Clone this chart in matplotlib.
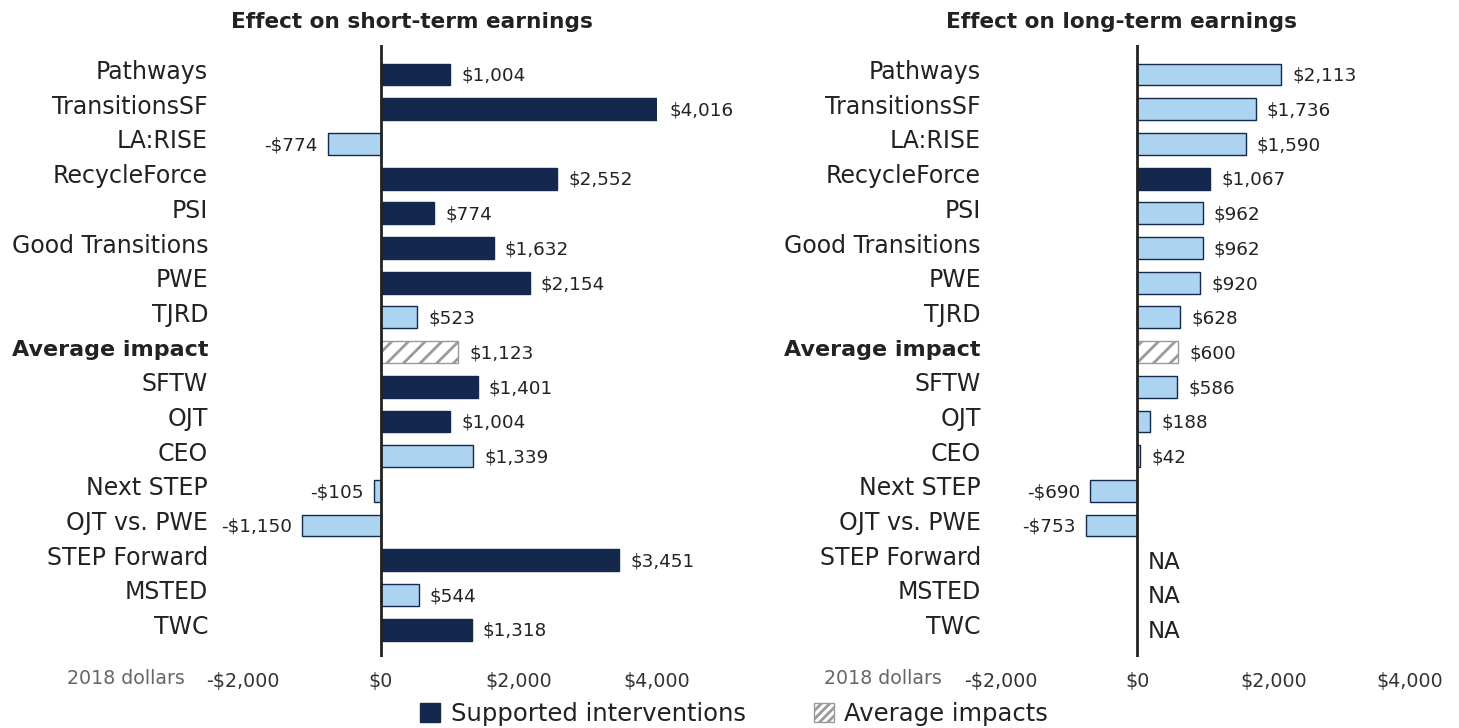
import matplotlib
matplotlib.use("Agg")
import matplotlib.pyplot as plt
import matplotlib.transforms as mtransforms
from matplotlib.patches import Patch

plt.rcParams['font.family'] = ['DejaVu Sans']
plt.rcParams['hatch.linewidth'] = 2.0

categories = ["Pathways", "TransitionsSF", "LA:RISE", "RecycleForce", "PSI",
              "Good Transitions", "PWE", "TJRD", "Average impact", "SFTW", "OJT",
              "CEO", "Next STEP", "OJT vs. PWE", "STEP Forward", "MSTED", "TWC"]

short_values = [1004, 4016, -774, 2552, 774, 1632, 2154, 523, 1123, 1401, 1004,
                1339, -105, -1150, 3451, 544, 1318]
short_types = ["S", "S", "N", "S", "S", "S", "S", "N", "A", "S", "S",
               "N", "N", "N", "S", "N", "S"]

long_values = [2113, 1736, 1590, 1067, 962, 962, 920, 628, 600, 586, 188,
               42, -690, -753, None, None, None]
long_types = ["N", "N", "N", "S", "N", "N", "N", "N", "A", "N", "N",
              "N", "N", "N", "NA", "NA", "NA"]

xticks = [-2000, 0, 2000, 4000]
xtick_labels = ["-$2,000", "$0", "$2,000", "$4,000"]

NAVY = "#14284d"
LIGHT = "#acd3f0"
HATCH_GRAY = "#9a9a9a"
TEXT = "#222222"

W, H = 1459, 728
fig = plt.figure(figsize=(W / 100, H / 100), dpi=100)

def fmt(v):
    s = "${:,.0f}".format(abs(v))
    return "-" + s if v < 0 else s

def make_panel(x_left_px, x_right_px, values, types, title, title_cx, label_right_px, dollars_right_px):
    top_px, bot_px = 45, 657
    ax = fig.add_axes([x_left_px / W, (H - bot_px) / H,
                       (x_right_px - x_left_px) / W, (bot_px - top_px) / H])
    n = len(categories)
    ax.set_xlim(-2000, 4000)
    ax.set_ylim(n - 1 + 0.79, -0.85)
    for s in ax.spines.values():
        s.set_visible(False)
    ax.set_yticks([])
    ax.set_xticks(xticks)
    ax.set_xticklabels(xtick_labels, fontsize=13.7, color="#333333")
    ax.tick_params(axis='x', length=0, pad=11)

    off = mtransforms.offset_copy

    for i, (v, t) in enumerate(zip(values, types)):
        if t == "NA":
            ax.text(0, i + 0.06, "NA", ha="left", va="center", fontsize=16.5, color=TEXT,
                    transform=off(ax.transData, fig=fig, x=10, y=0, units='dots'))
            continue
        if t == "S":
            ax.barh(i, v, height=0.63, color=NAVY, edgecolor=NAVY, linewidth=1, zorder=2)
        elif t == "N":
            ax.barh(i, v, height=0.63, color=LIGHT, edgecolor=NAVY, linewidth=1, zorder=2)
        else:
            ax.barh(i, v, height=0.63, color="white", edgecolor=HATCH_GRAY, hatch="//",
                    linewidth=1, zorder=2)
        if v >= 0:
            ax.text(v, i + 0.04, fmt(v), ha="left", va="center", fontsize=13.2, color=TEXT,
                    transform=off(ax.transData, fig=fig, x=11, y=0, units='dots'))
        else:
            ax.text(v, i + 0.04, fmt(v), ha="right", va="center", fontsize=13.2, color=TEXT,
                    transform=off(ax.transData, fig=fig, x=-10, y=0, units='dots'))

    ax.axvline(0, color="#222222", linewidth=2, zorder=3)

    btr = mtransforms.blended_transform_factory(fig.transFigure, ax.transData)
    for i, c in enumerate(categories):
        bold = c == "Average impact"
        ax.text(label_right_px / W, i - 0.07, c, ha="right", va="center",
                fontsize=16 if bold else 17, color=TEXT, transform=btr,
                fontweight="bold" if bold else "normal")

    fig.text(title_cx / W, 1 - 22 / H, title, ha="center", va="center",
             fontsize=15.6, fontweight="bold", color=TEXT)
    fig.text(dollars_right_px / W, 1 - 679 / H, "2018 dollars", ha="right", va="center",
             fontsize=13.7, color="#666666")
    return ax

make_panel(243, 657, short_values, short_types, "Effect on short-term earnings", 412, 208, 185)
make_panel(1001, 1410, long_values, long_types, "Effect on long-term earnings", 1122, 981, 942)

handles = [Patch(facecolor=NAVY, edgecolor=NAVY, label="Supported interventions"),
           Patch(facecolor="white", edgecolor=HATCH_GRAY, hatch="////", label="Average impacts")]
fig.legend(handles=handles, loc="center", bbox_to_anchor=(734 / W, 1 - 714 / H), ncol=2,
           frameon=False, fontsize=17.5, handlelength=0.85, handleheight=0.85,
           columnspacing=2.8, handletextpad=0.42, labelcolor=TEXT,
           borderpad=0, borderaxespad=0)

fig.savefig("out.png", dpi=100)
